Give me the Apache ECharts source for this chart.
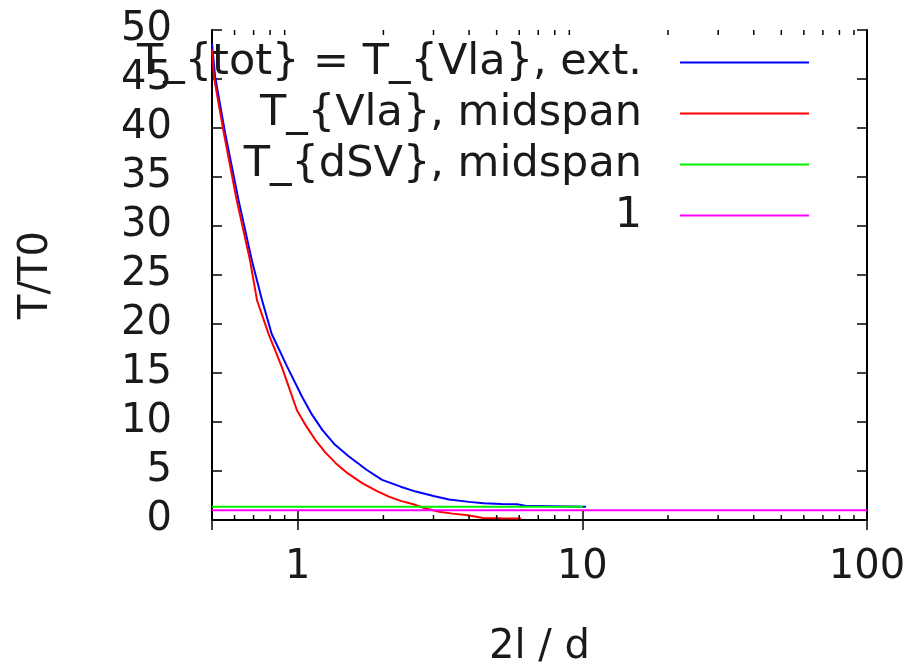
<!DOCTYPE html>
<html>
<head>
<meta charset="utf-8">
<script src="https://cdn.jsdelivr.net/npm/echarts@6/dist/echarts.min.js"></script>
<style>
  html, body { margin: 0; padding: 0; background: #fff; }
  #chart { width: 911px; height: 663px; }
</style>
</head>
<body>
<div id="chart"></div>
<script>
// data: [2l/d, T/T0]
const totExt = [[0.5, 48.6], [0.513, 45.2], [0.556, 39.5], [0.619, 32.7], [0.69, 26.5], [0.75, 22.4],
  [0.81, 19.0], [0.92, 15.6], [1.035, 12.6], [1.12, 10.8], [1.22, 9.2], [1.35, 7.7], [1.51, 6.5],
  [1.75, 5.1], [1.98, 4.1], [2.3, 3.4], [2.6, 2.9], [3.0, 2.45], [3.4, 2.1], [4.0, 1.85], [4.5, 1.7],
  [5.2, 1.62], [5.9, 1.6], [6.3, 1.45], [8.0, 1.4], [10.3, 1.35]];
const vlaMid = [[0.5, 48.0], [0.508, 45.2], [0.55, 39.5], [0.61, 32.7], [0.68, 26.5], [0.72, 22.4],
  [0.79, 19.0], [0.88, 15.6], [0.994, 11.2], [1.07, 9.6], [1.154, 8.16], [1.25, 6.9], [1.36, 5.8],
  [1.5, 4.75], [1.69, 3.74], [1.9, 2.95], [2.09, 2.38], [2.3, 1.95], [2.53, 1.63], [2.8, 1.2],
  [3.14, 0.85], [3.5, 0.65], [3.9, 0.51], [4.2, 0.35], [4.47, 0.2], [5.2, 0.17], [6.1, 0.15]];
const dsvMid = [[0.5, 1.35], [10.05, 1.35]];
const one = [[0.5, 1], [100, 1]];
const names = ["T_{tot} = T_{Vla}, ext.", "T_{Vla}, midspan", "T_{dSV}, midspan", "1"];
const colors = ["#0000ff", "#ff0000", "#00ee00", "#ff00ff"];
// minor log ticks
const minorTicks = [0.6, 0.7, 0.8, 0.9, 2, 3, 4, 5, 6, 7, 8, 9, 20, 30, 40, 50, 60, 70, 80, 90];

const chart = echarts.init(document.getElementById("chart"));
const font = "DejaVu Sans";
const txt = "#1a1a1a";

const lineSeries = [totExt, vlaMid, dsvMid, one].map((d, i) => ({
  name: names[i],
  type: "line",
  data: d,
  symbol: "none",
  smooth: false,
  lineStyle: { color: colors[i], width: 2 },
  itemStyle: { color: colors[i] },
  z: 2 + i,
}));

let option = {
  animation: false,
  grid: { left: 212, right: 44, top: 30, bottom: 143, containLabel: false, outerBoundsMode: "none" },
  legend: {
    data: names,
    orient: "vertical",
    align: "right",
    right: 102,
    top: 41,
    padding: 0,
    icon: "rect",
    itemWidth: 129,
    itemHeight: 2,
    itemGap: 8,
    textStyle: { fontFamily: font, fontSize: 43, color: txt, lineHeight: 41, padding: [0, 33, 0, 0] },
  },
  xAxis: [
    {
      type: "log",
      logBase: 10,
      min: 0.5,
      max: 100,
      position: "bottom",
      name: "2l / d",
      nameLocation: "middle",
      nameGap: 108,
      nameTextStyle: { fontFamily: font, fontSize: 40, color: txt },
      axisLine: { lineStyle: { color: "#000", width: 2 } },
      axisTick: { inside: true, length: 10, lineStyle: { color: "#000", width: 1.5 } },
      axisLabel: { fontFamily: font, fontSize: 40, color: txt, margin: 28, showMinLabel: false },
      splitLine: { show: false },
    },
    {
      type: "log",
      logBase: 10,
      min: 0.5,
      max: 100,
      position: "top",
      axisLine: { lineStyle: { color: "#000", width: 2 } },
      axisTick: { inside: true, length: 10, lineStyle: { color: "#000", width: 1.5 } },
      axisLabel: { show: false },
      splitLine: { show: false },
    },
  ],
  yAxis: [
    {
      type: "value",
      min: 0,
      max: 50,
      interval: 5,
      position: "left",
      name: "T/T0",
      nameLocation: "middle",
      nameGap: 155,
      nameRotate: 90,
      nameTextStyle: { fontFamily: font, fontSize: 40, color: txt },
      axisLine: { show: true, lineStyle: { color: "#000", width: 2 } },
      axisTick: { show: true, inside: true, length: 10, lineStyle: { color: "#000", width: 1.5 } },
      axisLabel: { fontFamily: font, fontSize: 40, color: txt, margin: 40 },
      splitLine: { show: false },
    },
    {
      type: "value",
      min: 0,
      max: 50,
      interval: 5,
      position: "right",
      axisLine: { show: true, lineStyle: { color: "#000", width: 2 } },
      axisTick: { show: true, inside: true, length: 10, lineStyle: { color: "#000", width: 1.5 } },
      axisLabel: { show: false },
      splitLine: { show: false },
    },
  ],
  series: lineSeries.concat([
    {
      type: "custom",
      name: "minor",
      data: minorTicks.map((v) => [v, 0]),
      silent: true,
      z: 10,
      renderItem: function (params, api) {
        const v = api.value(0);
        const b = api.coord([v, 0]);
        const t = api.coord([v, 50]);
        const st = { stroke: "#000", lineWidth: 1.5 };
        return {
          type: "group",
          children: [
            { type: "line", shape: { x1: b[0], y1: b[1], x2: b[0], y2: b[1] - 5 }, style: st },
            { type: "line", shape: { x1: t[0], y1: t[1], x2: t[0], y2: t[1] + 5 }, style: st },
          ],
        };
      },
    },
  ]),
};

option && chart.setOption(option);
</script>
</body>
</html>
